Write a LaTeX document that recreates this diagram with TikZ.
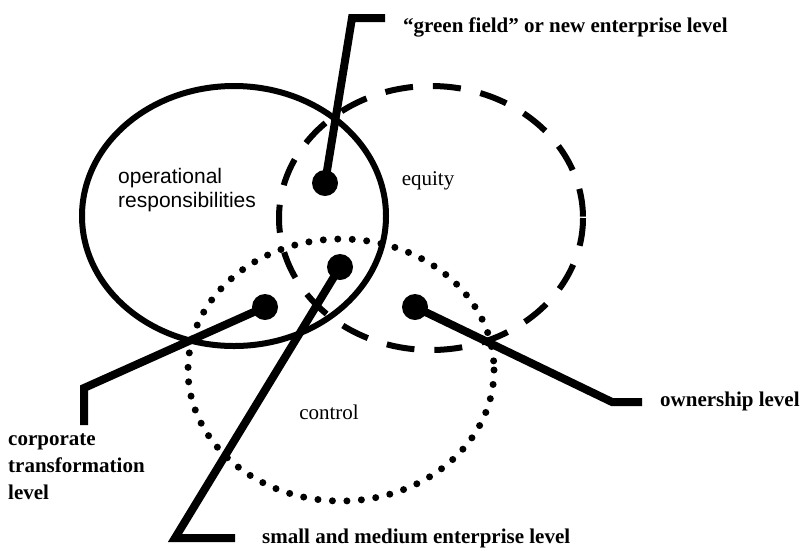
\documentclass[tikz,border=0pt]{standalone}
\usepackage{fontspec}
\setmainfont{Liberation Serif}
\newfontfamily\arialfont{Liberation Sans}
\begin{document}
\begin{tikzpicture}[x=1pt,y=-1pt,
  ring/.style={line width=6pt},
  leader/.style={line width=8pt, line join=miter},
  dotmark/.style={circle, fill=black, minimum size=26pt, inner sep=0pt},
  lbl/.style={font=\fontsize{21}{27}\selectfont\bfseries, inner sep=0pt},
  setlbl/.style={font=\fontsize{21}{24}\selectfont, inner sep=0pt},
]
\useasboundingbox (0,0) rectangle (805,550);
% sets
\draw[ring] (234,216) ellipse [x radius=152, y radius=130];
\draw[ring, dash pattern=on 28pt off 20pt] (431,218) ellipse [x radius=152, y radius=132];
\draw[ring, line width=7pt, line cap=round, dash pattern=on 0pt off 14.5pt] (341,370) ellipse [x radius=153, y radius=131];
% points
\node[dotmark] (g) at (325,183) {};
\node[dotmark] (s) at (340,267) {};
\node[dotmark] (c) at (265,307) {};
\node[dotmark] (o) at (415,307) {};
\coordinate (g1) at (352,18); \coordinate (g2) at (385,18);
\coordinate (c1) at (84,388); \coordinate (c2) at (84,425);
\coordinate (s1) at (175,538); \coordinate (s2) at (235,538);
\coordinate (o1) at (612,402); \coordinate (o2) at (642,402);
\draw[leader] (g.center) -- (g1) -- (g2);
\draw[leader] (c.center) -- (c1) -- (c2);
\draw[leader] (s.center) -- (s1) -- (s2);
\draw[leader] (o.center) -- (o1) -- (o2);
% labels
\node[lbl, anchor=base west] (tg) at (403,32) {“green field” or new enterprise level};
\node[lbl, anchor=base west] (to) at (660,406) {ownership level};
\node[lbl, anchor=base west] (ts) at (262,543) {small and medium enterprise level};
\node[lbl, anchor=north west, align=left] (tc) at (8,433) {corporate\\transformation\\level};
\node[font=\arialfont\fontsize{21}{24}\selectfont, align=left, anchor=north west, inner sep=0pt] (op) at (118,168) {operational\\responsibilities};
\node[setlbl] (eq) at (428,181) {equity};
\node[setlbl] (ct) at (329,412) {control};
\end{tikzpicture}
\end{document}
